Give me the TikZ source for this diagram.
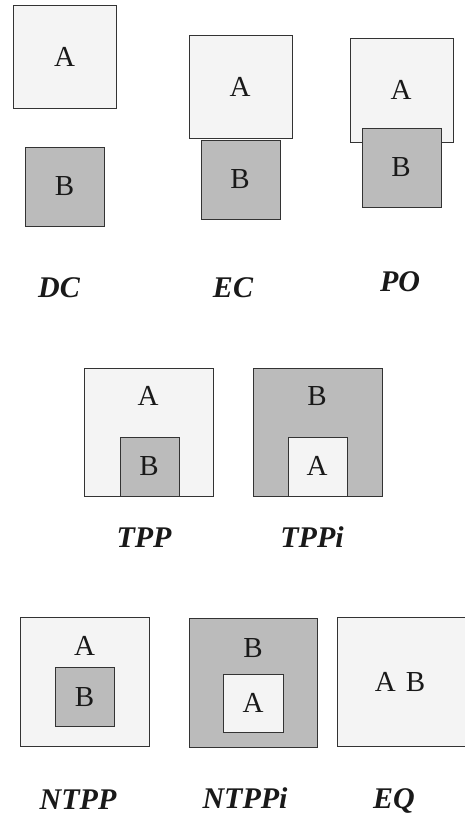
\documentclass[tikz,border=0pt]{standalone}
\usepackage{fontspec}
\setmainfont{Liberation Serif}
\begin{document}
\begin{tikzpicture}[x=1pt,y=-1pt,
  lightbox/.style={fill=light,draw=edge,line width=1pt},
  darkbox/.style={fill=dark,draw=edge,line width=1pt},
  letter/.style={font=\fontsize{29}{29}\selectfont,inner sep=0pt,text=black!90},
  relname/.style={font=\fontsize{30}{30}\selectfont\bfseries\itshape,inner sep=0pt,anchor=base,text=black!90}]
\definecolor{light}{HTML}{F4F4F4}
\definecolor{dark}{HTML}{BBBBBB}
\definecolor{edge}{HTML}{333333}
\useasboundingbox (0,0) rectangle (464,816);
% DC
\draw[lightbox] (13,6) rectangle (116,108);
\draw[darkbox] (25,147) rectangle (104,226);
\node[letter] (dcA) at (64.5,57) {A};
\node[letter] (dcB) at (64.5,186) {B};
\node[relname] (dc) at (59,297) {DC};
% EC
\draw[lightbox] (189,36) rectangle (292,138);
\draw[darkbox] (201,140) rectangle (280,219);
\node[letter] (ecA) at (240,87) {A};
\node[letter] (ecB) at (240,179) {B};
\node[relname] (ec) at (233,297) {EC};
% PO
\draw[lightbox] (350,39) rectangle (453,142);
\draw[darkbox] (362,128) rectangle (441,207);
\node[letter] (poA) at (401,90) {A};
\node[letter] (poB) at (401,167) {B};
\node[relname] (po) at (400,291) {PO};
% TPP
\draw[lightbox] (84,368) rectangle (213,496);
\draw[darkbox] (120,437) rectangle (179,496);
\node[letter] (tppA) at (148,396) {A};
\node[letter] (tppB) at (149,466) {B};
\node[relname] (tpp) at (144,547) {TPP};
% TPPi
\draw[darkbox] (253,368) rectangle (382,496);
\draw[lightbox] (288,437) rectangle (347,496);
\node[letter] (tppiB) at (317,396) {B};
\node[letter] (tppiA) at (317,466) {A};
\node[relname] (tppi) at (312,547) {TPPi};
% NTPP
\draw[lightbox] (20,617) rectangle (149,746);
\draw[darkbox] (55,667) rectangle (114,726);
\node[letter] (ntppA) at (84.5,646) {A};
\node[letter] (ntppB) at (84.5,697) {B};
\node[relname] (ntpp) at (78,809) {NTPP};
% NTPPi
\draw[darkbox] (189,618) rectangle (317,747);
\draw[lightbox] (223,674) rectangle (283,732);
\node[letter] (ntppiB) at (253,648) {B};
\node[letter] (ntppiA) at (253,703) {A};
\node[relname] (ntppi) at (245,808) {NTPPi};
% EQ (right edge runs past the picture's border)
\draw[lightbox] (337,617) rectangle (490,746);
\node[letter] (eqAB) at (400,682) {A\hspace{0.35em}B};
\node[relname] (eq) at (394,808) {EQ};
\end{tikzpicture}
\end{document}
